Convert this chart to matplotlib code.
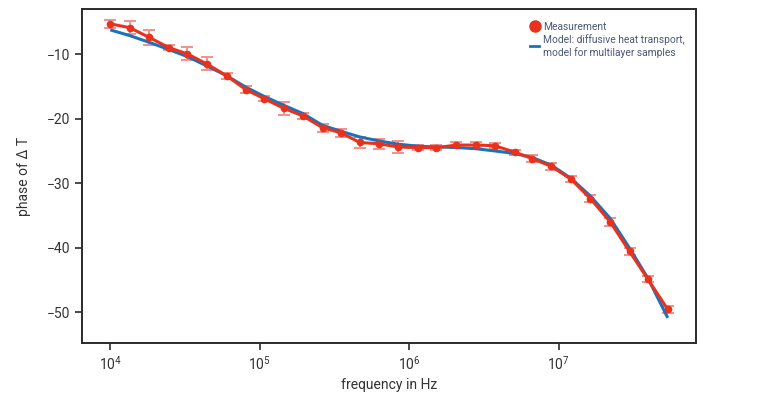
import matplotlib
matplotlib.use("Agg")
import matplotlib.pyplot as plt
from matplotlib.lines import Line2D

plt.rcParams['font.family'] = ['Roboto', 'DejaVu Sans']

freq = [1.0e4, 1.35e4, 1.82e4, 2.47e4, 3.27e4, 4.41e4, 6.0e4, 8.07e4,
        1.07e5, 1.45e5, 1.95e5, 2.63e5, 3.49e5, 4.67e5, 6.28e5, 8.47e5,
        1.15e6, 1.52e6, 2.07e6, 2.79e6, 3.73e6, 5.08e6, 6.66e6, 8.93e6,
        1.21e7, 1.63e7, 2.21e7, 2.98e7, 3.95e7, 5.37e7]
measured = [-5.3, -5.9, -7.4, -9.0, -9.95, -11.5, -13.35, -15.5,
            -16.9, -18.4, -19.6, -21.4, -22.2, -23.7, -23.9, -24.4,
            -24.5, -24.5, -24.1, -24.1, -24.2, -25.2, -26.2, -27.4,
            -29.4, -32.4, -36.0, -40.6, -44.9, -49.6]
errors = [0.6, 1.0, 1.2, 0.4, 1.0, 1.0, 0.5, 0.6, 0.4, 1.0,
          0.5, 0.6, 0.6, 0.8, 0.8, 1.0, 0.4, 0.4, 0.4, 0.4,
          0.4, 0.4, 0.5, 0.5, 0.5, 0.6, 0.6, 0.6, 0.5, 0.5]
model = [-6.24, -7.13, -8.16, -9.29, -10.37, -11.81, -13.35, -15.12,
         -16.55, -17.94, -19.23, -21.04, -21.96, -22.84, -23.46, -23.97,
         -24.28, -24.39, -24.48, -24.67, -25.01, -25.41, -26.03, -27.22,
         -29.27, -32.01, -35.46, -40.09, -44.73, -50.91]

red = '#e8321e'
err_col = '#f2928a'
blue = '#1a72bf'
text_col = '#4b5876'

fig = plt.figure(figsize=(7.68, 4.19), dpi=100)
ax = fig.add_axes([0.1068, 0.1814, 0.7995, 0.7971])

ax.errorbar(freq, measured, yerr=errors, fmt='none', ecolor=err_col,
            elinewidth=1.4, capsize=4.5, capthick=1.4, zorder=2)
ax.plot(freq, model, color=blue, lw=2.2, zorder=3, solid_capstyle='butt')
ax.plot(freq, measured, color=red, lw=2.2, marker='o', ms=4.5, zorder=4)

ax.set_xscale('log')
ax.set_xlim(6.47e3, 8.3e7)
ax.set_ylim(-54.8, -3.0)
ax.set_yticks([-10, -20, -30, -40, -50])
ax.minorticks_off()
ax.xaxis.set_minor_locator(matplotlib.ticker.NullLocator())

for s in ax.spines.values():
    s.set_color('#2b2b2b')
    s.set_linewidth(1.4)
ax.tick_params(axis='both', direction='out', length=5, width=1.2,
               color='#2b2b2b', labelsize=10, labelcolor='#333333')

ax.set_xlabel('frequency in Hz', fontsize=10, color='#333333', labelpad=4)
ax.set_ylabel('phase of Δ T', fontsize=10, color='#333333', labelpad=11)

handles = [Line2D([], [], color=red, marker='o', ls='none', ms=8),
           Line2D([], [], color=blue, lw=2)]
labels = ['Measurement', 'Model: diffusive heat transport,\nmodel for multilayer samples']
leg = ax.legend(handles, labels, loc='upper right', frameon=False,
                fontsize=7.4, handlelength=0.9, handletextpad=0.4,
                labelspacing=0.25, bbox_to_anchor=(0.997, 0.99),
                borderaxespad=0.5)
for t in leg.get_texts():
    t.set_color(text_col)

fig.savefig('out.png', dpi=100)
